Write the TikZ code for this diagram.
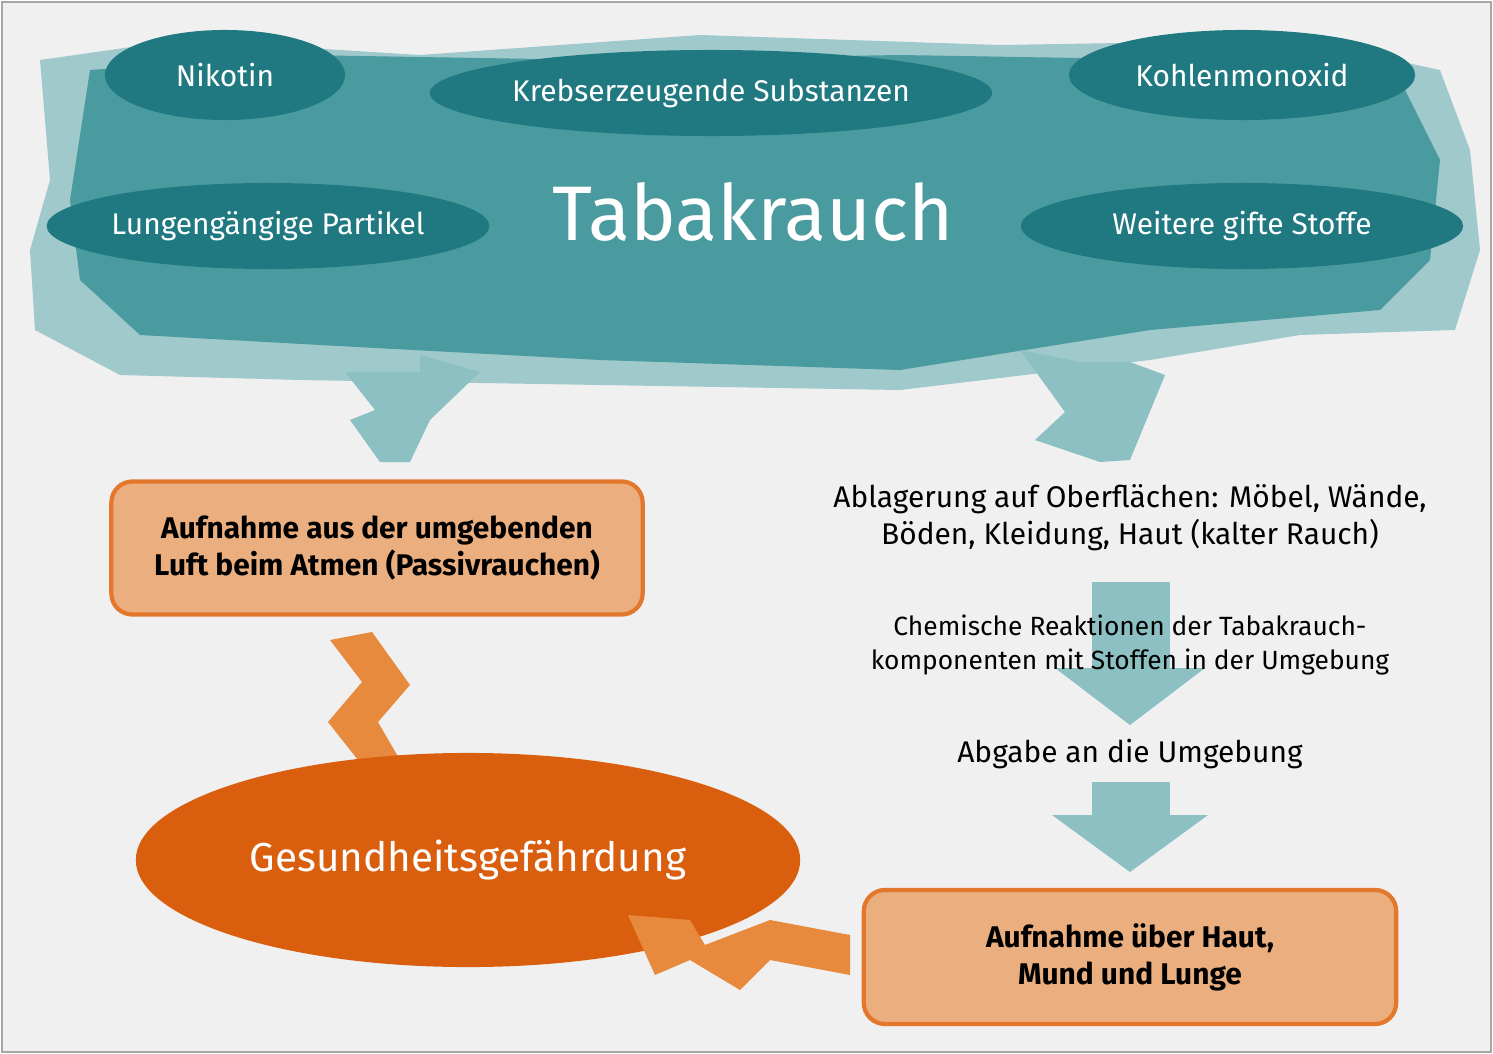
\documentclass[tikz,border=0pt]{standalone}
\usepackage{fontspec}
\setmainfont{Fira Sans}
\usetikzlibrary{positioning,shapes.geometric}
\definecolor{bgray}{HTML}{F0F0F1}
\definecolor{teal1}{HTML}{3C9399}
\definecolor{teal2}{HTML}{8CC0C3}
\definecolor{teal3}{HTML}{207980}
\definecolor{orbox}{HTML}{EBAE7E}
\definecolor{orline}{HTML}{E3782C}
\definecolor{ordark}{HTML}{D95F0E}
\definecolor{orarrow}{HTML}{E88A3E}
\tikzset{
  substanz/.style={ellipse, fill=teal3, text=white, inner sep=0pt, font=\fontsize{8.5}{10}\selectfont},
  aufnahme/.style={draw=orline, line width=1.2pt, fill=orbox, rounded corners=6pt,
    align=center, font=\bfseries\fontsize{8.5}{10.5}\selectfont},
  schritt/.style={align=center, font=\fontsize{8.5}{10.5}\selectfont},
  blockpfeil/.style={fill=teal2, draw=none},
  blitz/.style={fill=orarrow, draw=none}
}
\begin{document}
\begin{tikzpicture}[x=0.01cm, y=-0.01cm]
\useasboundingbox (0,0) rectangle (1493,1054);
\fill[bgray, draw=gray!70] (2,2) rectangle (1491,1052);
% Rauchwolke
\fill[teal2, opacity=.8] (40,60) -- (180,40) -- (420,55) -- (700,35) -- (1000,45) -- (1300,40) -- (1440,70)
  -- (1470,150) -- (1480,250) -- (1455,330) -- (1300,335) -- (1150,360) -- (900,390) -- (600,385)
  -- (300,380) -- (120,375) -- (35,330) -- (30,250) -- (50,180) -- cycle;
\fill[teal1, opacity=.85] (90,70) -- (300,55) -- (600,60) -- (900,55) -- (1200,60) -- (1400,80)
  -- (1440,160) -- (1430,260) -- (1380,310) -- (1150,330) -- (900,370) -- (600,360)
  -- (320,345) -- (140,335) -- (80,280) -- (70,200) -- cycle;
% Pfeile aus der Wolke
\fill[blockpfeil] (345,372) -- (420,372) -- (420,355) -- (480,372) -- (430,420) -- (410,462) -- (380,462)
  -- (350,420) -- (375,410) -- cycle;
\fill[blockpfeil] (1020,350) -- (1080,362) -- (1130,362) -- (1165,375) -- (1130,460) -- (1100,462)
  -- (1035,440) -- (1065,412) -- cycle;
\fill[blockpfeil] (1092,582) rectangle (1170,668);
\fill[blockpfeil] (1055,668) -- (1205,668) -- (1130,725) -- cycle;
\fill[blockpfeil] (1092,782) rectangle (1170,815);
\fill[blockpfeil] (1052,815) -- (1208,815) -- (1130,872) -- cycle;
\node[substanz, minimum width=2.40cm, minimum height=0.90cm] (nik) at (225,75) {Nikotin};
\node[substanz, minimum width=4.86cm, minimum height=0.86cm] (kreb) at (711,93) {Krebserzeugende Substanzen};
\node[substanz, minimum width=3.46cm, minimum height=0.90cm] (kohl) at (1242,75) {Kohlenmonoxid};
\node[substanz, minimum width=4.42cm, minimum height=0.86cm] (lung) at (268,226) {Lungengängige Partikel};
\node[substanz, minimum width=4.42cm, minimum height=0.86cm] (weit) at (1242,226) {Weitere gifte Stoffe};
\node[text=white, font=\fontsize{22}{24}\selectfont] (rauch) at (753,212) {Tabakrauch};
% linke Seite
\node[aufnahme, minimum width=5.31cm, minimum height=1.33cm] (atmen) at (377,548)
  {Aufnahme aus der umgebenden\\Luft beim Atmen (Passivrauchen)};
\fill[blitz] (330,640) -- (372,632) -- (410,685) -- (378,722) -- (400,760) -- (415,800)
  -- (340,765) -- (358,760) -- (328,722) -- (362,682) -- cycle;
\node[ellipse, fill=ordark, minimum width=6.64cm, minimum height=2.14cm, text=white,
  font=\fontsize{11.5}{13}\selectfont] (gefahr) at (468,860) {Gesundheitsgefährdung};
% rechte Seite
\node[schritt] (ablag) at (1130,518) {Ablagerung auf Oberflächen: Möbel, Wände,\\Böden, Kleidung, Haut (kalter Rauch)};
\node[schritt, font=\fontsize{7.5}{9.5}\selectfont] (chem) at (1130,645) {Chemische Reaktionen der Tabakrauch-\\komponenten mit Stoffen in der Umgebung};
\node[schritt] (abgabe) at (1130,754) {Abgabe an die Umgebung};
\node[aufnahme, minimum width=5.32cm, minimum height=1.34cm] (haut) at (1130,957)
  {Aufnahme über Haut,\\Mund und Lunge};
\fill[blitz] (850,935) -- (850,975) -- (770,960) -- (740,990) -- (690,960) -- (655,975)
  -- (628,915) -- (690,920) -- (705,945) -- (770,920) -- cycle;
\end{tikzpicture}
\end{document}
